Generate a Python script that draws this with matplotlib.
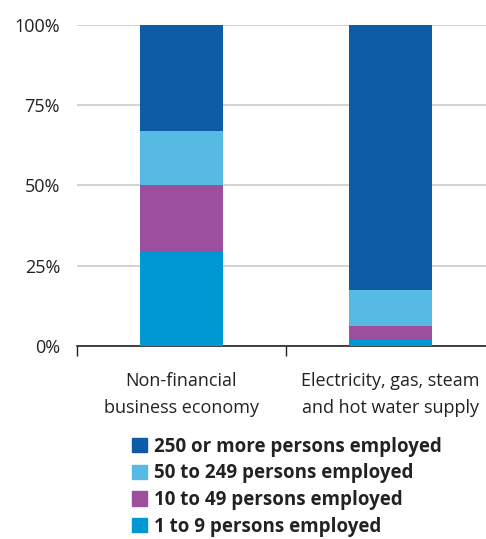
import numpy as np
import matplotlib.pyplot as plt
from matplotlib.patches import Patch

plt.rcParams['font.family'] = ['Open Sans', 'DejaVu Sans']

categories = ['Non-financial\nbusiness economy', 'Electricity, gas, steam\nand hot water supply']
series_names = ['1 to 9 persons employed', '10 to 49 persons employed',
                '50 to 249 persons employed', '250 or more persons employed']
v_1_9 = [29.4, 2.0]
v_10_49 = [20.8, 4.3]
v_50_249 = [16.8, 11.2]
v_250 = [33.0, 82.5]
colors = ['#0098d2', '#9b4f9e', '#57bae3', '#0e5ca5']

fig = plt.figure(figsize=(4.86, 5.39), dpi=100)
ax = fig.add_axes([0.158, 0.358, 0.842, 0.596])

x = np.arange(len(categories))
bottom = np.zeros(len(categories))
for vals, c in zip([v_1_9, v_10_49, v_50_249, v_250], colors):
    ax.bar(x, vals, 0.40, bottom=bottom, color=c, zorder=3)
    bottom += np.array(vals)

ax.set_xlim(-0.5, 1.457)
ax.set_ylim(0, 100)
ax.set_yticks([0, 25, 50, 75, 100])
ax.set_yticklabels(['0%', '25%', '50%', '75%', '100%'], fontsize=13, color='#222222')
ax.yaxis.grid(True, color='#cccccc', linewidth=1.2, zorder=0)
ax.tick_params(axis='y', length=0, pad=12)

ax.set_xticks([-0.5, 0.5])
ax.set_xticklabels([])
ax.tick_params(axis='x', length=7, width=1, color='#222222', direction='out')
for i, lab in enumerate(categories):
    ax.text(i, -8.0, lab, ha='center', va='top', fontsize=13, color='#222222',
            linespacing=1.65, transform=ax.transData)

for s in ['top', 'right', 'left']:
    ax.spines[s].set_visible(False)
ax.spines['bottom'].set_color('#222222')
ax.spines['bottom'].set_linewidth(1.2)

handles = [Patch(color=c) for c in colors][::-1]
leg = fig.legend(handles, series_names[::-1], loc='upper left',
                 bbox_to_anchor=(0.272, 0.19), frameon=False,
                 prop={'weight': 'bold', 'size': 13.5},
                 handlelength=0.8, handleheight=0.8, handletextpad=0.35,
                 labelspacing=0.36, borderpad=0, borderaxespad=0)
for t in leg.get_texts():
    t.set_color('#222222')

fig.savefig('out.png', dpi=100)
